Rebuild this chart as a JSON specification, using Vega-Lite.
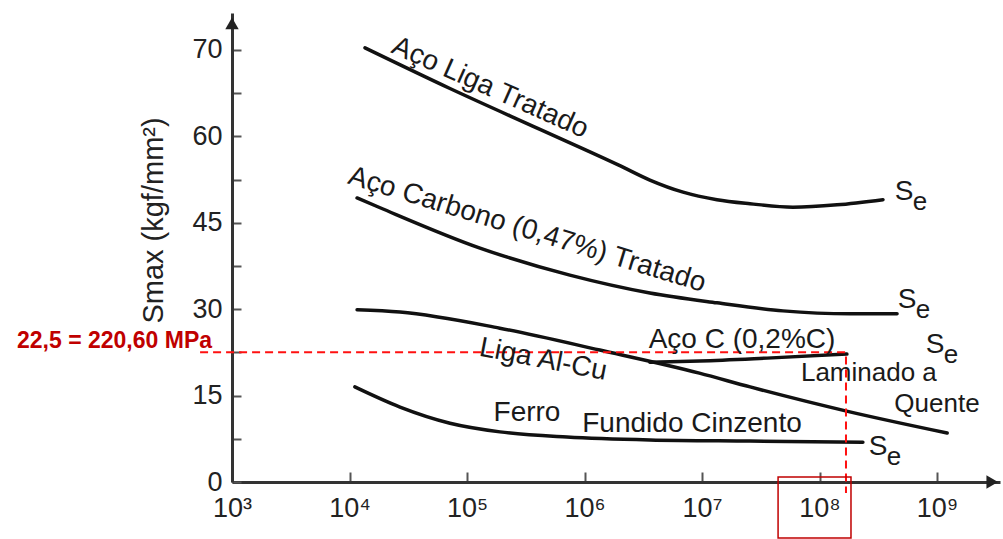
{
  "$schema": "https://vega.github.io/schema/vega-lite/v6.json",
  "width": 768,
  "height": 469,
  "autosize": {"type": "none"},
  "padding": {"left": 232, "top": 13, "right": 3, "bottom": 57},
  "background": "white",
  "config": {"view": {"stroke": null}, "font": "Liberation Sans"},
  "datasets": {
    "curves": [
      {"series": "Aço Liga Tratado", "n": 1.355e4, "s": 75.35},
      {"series": "Aço Liga Tratado", "n": 7.16e4, "s": 68.3},
      {"series": "Aço Liga Tratado", "n": 4.18e5, "s": 61.2},
      {"series": "Aço Liga Tratado", "n": 2.0e6, "s": 54.9},
      {"series": "Aço Liga Tratado", "n": 3.6e6, "s": 52.4},
      {"series": "Aço Liga Tratado", "n": 6.9e6, "s": 50.3},
      {"series": "Aço Liga Tratado", "n": 1.34e7, "s": 49.0},
      {"series": "Aço Liga Tratado", "n": 2.56e7, "s": 48.3},
      {"series": "Aço Liga Tratado", "n": 5.94e7, "s": 47.7},
      {"series": "Aço Liga Tratado", "n": 1.41e8, "s": 48.1},
      {"series": "Aço Liga Tratado", "n": 3.47e8, "s": 49.0},
      {"series": "Aço Carbono", "n": 1.16e4, "s": 49.3},
      {"series": "Aço Carbono", "n": 1.82e4, "s": 47.6},
      {"series": "Aço Carbono", "n": 1.29e5, "s": 40.6},
      {"series": "Aço Carbono", "n": 7.5e5, "s": 35.9},
      {"series": "Aço Carbono", "n": 3.6e6, "s": 32.8},
      {"series": "Aço Carbono", "n": 1.34e7, "s": 31.1},
      {"series": "Aço Carbono", "n": 4.89e7, "s": 29.7},
      {"series": "Aço Carbono", "n": 1.82e8, "s": 29.2},
      {"series": "Aço Carbono", "n": 4.57e8, "s": 29.2},
      {"series": "Liga Al-Cu", "n": 1.16e4, "s": 29.9},
      {"series": "Liga Al-Cu", "n": 2.69e4, "s": 29.5},
      {"series": "Liga Al-Cu", "n": 1.9e5, "s": 26.7},
      {"series": "Liga Al-Cu", "n": 1.35e6, "s": 22.9},
      {"series": "Liga Al-Cu", "n": 9.5e6, "s": 18.9},
      {"series": "Liga Al-Cu", "n": 2.57e7, "s": 16.5},
      {"series": "Liga Al-Cu", "n": 1.7e8, "s": 12.3},
      {"series": "Liga Al-Cu", "n": 1.22e9, "s": 8.5},
      {"series": "Aço C", "n": 3.6e6, "s": 20.8},
      {"series": "Aço C", "n": 9.6e6, "s": 21.0},
      {"series": "Aço C", "n": 3.57e7, "s": 21.5},
      {"series": "Aço C", "n": 1.71e8, "s": 22.2},
      {"series": "Ferro Fundido Cinzento", "n": 1.11e4, "s": 16.5},
      {"series": "Ferro Fundido Cinzento", "n": 2.69e4, "s": 13.0},
      {"series": "Ferro Fundido Cinzento", "n": 7.16e4, "s": 10.2},
      {"series": "Ferro Fundido Cinzento", "n": 1.91e5, "s": 8.7},
      {"series": "Ferro Fundido Cinzento", "n": 7.1e5, "s": 7.8},
      {"series": "Ferro Fundido Cinzento", "n": 3.6e6, "s": 7.3},
      {"series": "Ferro Fundido Cinzento", "n": 2.56e7, "s": 7.1},
      {"series": "Ferro Fundido Cinzento", "n": 2.34e8, "s": 6.9}
    ],
    "labels": [
      {"label": "Aço Liga Tratado", "n": 1.57e5, "s": 68.4},
      {"label": "Aço Carbono (0,47%) Tratado", "n": 3.24e5, "s": 43.75},
      {"label": "Liga Al-Cu", "n": 4.44e5, "s": 21.2},
      {"label": "Aço C (0,2%C)", "n": 2.19e7, "s": 24.65},
      {"label": "Laminado a", "n": 2.63e8, "s": 18.9},
      {"label": "Quente", "n": 1.0e9, "s": 13.6},
      {"label": "Ferro", "n": 3.24e5, "s": 12.0},
      {"label": "Fundido Cinzento", "n": 8.22e6, "s": 10.1}
    ],
    "se": [
      {"n": 5.24e8, "s": 50.35},
      {"n": 5.56e8, "s": 31.6},
      {"n": 9.62e8, "s": 23.8},
      {"n": 3.15e8, "s": 6.1}
    ],
    "guide": [
      {"ord": 1, "n": 535, "s": 22.5},
      {"ord": 2, "n": 1.68e8, "s": 22.5},
      {"ord": 3, "n": 1.68e8, "s": -1.9}
    ],
    "box": [
      {"n": 4.44e7, "n2": 1.853e8, "s": 0.87, "s2": -9.72}
    ],
    "note": [
      {"label": "22,5 = 220,60 MPa", "n": 676, "s": 24.4}
    ],
    "arrowUp": [{"n": 1000, "s": 79.6}],
    "arrowRight": [{"n": 2.95e9, "s": 0}]
  },
  "encoding": {
    "x": {
      "field": "n",
      "type": "quantitative",
      "scale": {"type": "log", "domain": [1000, 3.436e9], "nice": false},
      "axis": {
        "values": [1000, 10000, 100000, 1000000, 10000000, 100000000, 1000000000],
        "labelExpr": "'10' + ['⁰','¹','²','³','⁴','⁵','⁶','⁷','⁸','⁹'][round(log(datum.value)/LN10)]",
        "title": null,
        "grid": false,
        "domainColor": "#333",
        "domainWidth": 3,
        "tickColor": "#555",
        "tickWidth": 2,
        "tickSize": -10,
        "labelFontSize": 27,
        "labelColor": "#222",
        "labelPadding": 23,
        "labelFlush": false,
        "labelOverlap": false
      }
    },
    "y": {
      "field": "s",
      "type": "quantitative",
      "scale": {"domain": [0, 81.4], "nice": false, "zero": false},
      "axis": {
        "values": [0, 7.5, 15, 22.5, 30, 37.5, 45, 52.5, 60, 67.5, 75],
        "labelExpr": "datum.value == 75 ? '70' : (datum.value % 15 == 0 ? datum.label : '')",
        "title": "Smax (kgf/mm²)",
        "titleFontSize": 29,
        "titleFontWeight": "normal",
        "titleColor": "#222",
        "titleAngle": -90,
        "titleX": -79,
        "titleY": 207,
        "titleAlign": "center",
        "titleBaseline": "middle",
        "grid": false,
        "domainColor": "#333",
        "domainWidth": 3,
        "tickColor": "#555",
        "tickWidth": 2,
        "tickSize": -9,
        "labelFontSize": 27,
        "labelColor": "#222",
        "labelPadding": 19,
        "labelOverlap": false,
        "labelFlush": false
      }
    }
  },
  "layer": [
    {
      "data": {"name": "curves"},
      "mark": {"type": "line", "color": "#111", "strokeWidth": 3.5, "strokeCap": "round", "interpolate": "monotone"},
      "encoding": {"detail": {"field": "series"}}
    },
    {
      "data": {"name": "guide"},
      "mark": {"type": "line", "color": "#ff1010", "strokeWidth": 2, "strokeDash": [8, 5], "clip": false},
      "encoding": {"order": {"field": "ord", "type": "quantitative"}}
    },
    {
      "data": {"name": "box"},
      "mark": {"type": "rect", "filled": false, "stroke": "#c00000", "strokeWidth": 1.5, "clip": false},
      "encoding": {"x2": {"field": "n2"}, "y2": {"field": "s2"}}
    },
    {
      "data": {"name": "labels"},
      "transform": [{"filter": "datum.label == 'Aço Liga Tratado'"}],
      "mark": {"type": "text", "fontSize": 28, "color": "#1a1a1a", "angle": 24, "baseline": "middle"},
      "encoding": {"text": {"field": "label"}}
    },
    {
      "data": {"name": "labels"},
      "transform": [{"filter": "datum.label == 'Aço Carbono (0,47%) Tratado'"}],
      "mark": {"type": "text", "fontSize": 28, "color": "#1a1a1a", "angle": 17, "baseline": "middle"},
      "encoding": {"text": {"field": "label"}}
    },
    {
      "data": {"name": "labels"},
      "transform": [{"filter": "datum.label == 'Liga Al-Cu'"}],
      "mark": {"type": "text", "fontSize": 28, "color": "#1a1a1a", "angle": 11, "baseline": "middle"},
      "encoding": {"text": {"field": "label"}}
    },
    {
      "data": {"name": "labels"},
      "transform": [{"filter": "datum.label == 'Laminado a' || datum.label == 'Quente'"}],
      "mark": {"type": "text", "fontSize": 26, "color": "#1a1a1a", "baseline": "middle"},
      "encoding": {"text": {"field": "label"}}
    },
    {
      "data": {"name": "labels"},
      "transform": [{"filter": "datum.label == 'Aço C (0,2%C)' || datum.label == 'Ferro' || datum.label == 'Fundido Cinzento'"}],
      "mark": {"type": "text", "fontSize": 28, "color": "#1a1a1a", "baseline": "middle"},
      "encoding": {"text": {"field": "label"}}
    },
    {
      "data": {"name": "se"},
      "mark": {"type": "text", "fontSize": 28, "color": "#1a1a1a", "baseline": "middle", "text": "S"}
    },
    {
      "data": {"name": "se"},
      "mark": {"type": "text", "fontSize": 26, "color": "#1a1a1a", "baseline": "middle", "text": "e", "dx": 16, "dy": 10}
    },
    {
      "data": {"name": "note"},
      "mark": {"type": "text", "fontSize": 23, "fontWeight": "bold", "color": "#c00000", "align": "right", "baseline": "middle"},
      "encoding": {"text": {"field": "label"}}
    },
    {
      "data": {"name": "arrowUp"},
      "mark": {"type": "point", "shape": "triangle-up", "filled": true, "color": "#222", "size": 180, "opacity": 1, "clip": false}
    },
    {
      "data": {"name": "arrowRight"},
      "mark": {"type": "point", "shape": "triangle-right", "filled": true, "color": "#222", "size": 180, "opacity": 1, "clip": false}
    }
  ]
}
